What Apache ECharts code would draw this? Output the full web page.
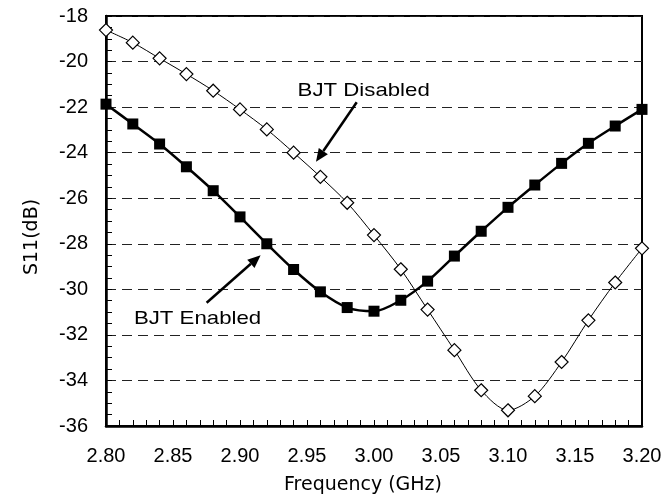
<!DOCTYPE html>
<html>
<head>
<meta charset="utf-8">
<script src="https://cdn.jsdelivr.net/npm/echarts@6/dist/echarts.min.js"></script>
<style>
  html, body { margin: 0; padding: 0; background: #fff; }
  #chart { width: 669px; height: 500px; }
</style>
</head>
<body>
<div id="chart"></div>
<script>
// Frequency sweep (GHz)
const freqGHz = [2.80, 2.82, 2.84, 2.86, 2.88, 2.90, 2.92, 2.94, 2.96, 2.98, 3.00,
                 3.02, 3.04, 3.06, 3.08, 3.10, 3.12, 3.14, 3.16, 3.18, 3.20];
// S11 (dB) with the BJT switched off
const s11Disabled = [-18.62, -19.17, -19.86, -20.55, -21.28, -22.10, -22.98, -24.00, -25.06, -26.20, -27.62,
                     -29.12, -30.89, -32.67, -34.43, -35.31, -34.69, -33.19, -31.36, -29.70, -28.20];
// S11 (dB) with the BJT switched on
const s11Enabled = [-21.87, -22.74, -23.62, -24.62, -25.67, -26.82, -28.00, -29.13, -30.11, -30.80, -30.96,
                    -30.48, -29.64, -28.54, -27.45, -26.40, -25.42, -24.47, -23.59, -22.83, -22.10];
// Axis ranges / tick steps
const xTicks = { min: 2.80, max: 3.20, step: 0.05 };
const yTicks = { min: -36, max: -18, step: 2 };
// Callout labels: text, text anchor, arrow tail, arrow head (data coordinates)
const callouts = [
  { text: 'BJT Disabled', at: [2.9923, -21.28], from: [2.9871, -21.79], to: [2.9567, -24.40] },
  { text: 'BJT Enabled',  at: [2.8683, -31.31], from: [2.8751, -30.59], to: [2.9154, -28.50] }
];

const pair = (xs, ys) => xs.map((x, i) => [x, ys[i]]);

const chart = echarts.init(document.getElementById('chart'));
const tickFont = { fontFamily: 'Liberation Sans', fontSize: 20, color: '#000' };

chart.setOption({
  animation: false,
  backgroundColor: '#fff',
  grid: {
    left: 106, right: 27, top: 16, bottom: 74,
    show: true, borderColor: '#000', borderWidth: 2, backgroundColor: 'transparent'
  },
  xAxis: {
    type: 'value',
    min: xTicks.min, max: xTicks.max, interval: xTicks.step,
    name: 'Frequency (GHz)',
    nameLocation: 'middle',
    nameGap: 50,
    nameTextStyle: { fontFamily: 'DejaVu Sans', fontSize: 19, color: '#000', padding: [0, 22, 0, 0] },
    axisLine: { show: true, lineStyle: { color: '#000', width: 2.5 } },
    axisTick: { show: true, inside: true, length: 6, lineStyle: { color: '#000', width: 1 } },
    minorTick: { show: true, splitNumber: 5, length: 6, lineStyle: { color: '#000', width: 1 } },
    axisLabel: Object.assign({ margin: 20, formatter: v => v.toFixed(2) }, tickFont),
    splitLine: { show: false }
  },
  yAxis: {
    type: 'value',
    min: yTicks.min, max: yTicks.max, interval: yTicks.step,
    name: 'S11(dB)',
    nameLocation: 'middle',
    nameRotate: 90,
    nameGap: 64,
    nameTextStyle: { fontFamily: 'DejaVu Sans', fontSize: 19, color: '#000', padding: [0, 32, 0, 0] },
    axisLine: { show: true, lineStyle: { color: '#000', width: 2.5 } },
    axisTick: { show: true, inside: true, length: 6, lineStyle: { color: '#000', width: 1 } },
    minorTick: { show: true, splitNumber: 4, length: 6, lineStyle: { color: '#000', width: 1 } },
    axisLabel: Object.assign({ margin: 18, formatter: v => String(v) }, tickFont),
    splitLine: { show: true, lineStyle: { color: '#222', width: 1, type: [10, 6] } }
  },
  series: [
    {
      name: 'BJT Disabled',
      type: 'line',
      data: pair(freqGHz, s11Disabled),
      smooth: 0.3,
      clip: false,
      symbol: 'diamond',
      symbolSize: 13,
      lineStyle: { color: '#000', width: 1 },
      itemStyle: { color: '#fff', borderColor: '#000', borderWidth: 1.2 },
      z: 3
    },
    {
      name: 'BJT Enabled',
      type: 'line',
      data: pair(freqGHz, s11Enabled),
      smooth: 0.3,
      clip: false,
      symbol: 'rect',
      symbolSize: 11,
      lineStyle: { color: '#000', width: 2.5 },
      itemStyle: { color: '#000', borderColor: '#000', borderWidth: 0 },
      z: 4
    }
  ]
});

// Callout text and arrows, placed from data coordinates
function arrowHead(tip, tail, len, half) {
  const dx = tip[0] - tail[0], dy = tip[1] - tail[1];
  const d = Math.hypot(dx, dy);
  const ux = dx / d, uy = dy / d;
  const bx = tip[0] - ux * len, by = tip[1] - uy * len;
  return [tip, [bx - uy * half, by + ux * half], [bx + uy * half, by - ux * half]];
}

const toPx = v => chart.convertToPixel({ gridIndex: 0 }, v);
const graphics = [];
callouts.forEach(c => {
  const at = toPx(c.at), a = toPx(c.from), b = toPx(c.to);
  const head = arrowHead(b, a, 13, 5.5);
  const lineEnd = [(head[1][0] + head[2][0]) / 2, (head[1][1] + head[2][1]) / 2];
  graphics.push({
    type: 'line', z: 10,
    shape: { x1: a[0], y1: a[1], x2: lineEnd[0], y2: lineEnd[1] },
    style: { stroke: '#000', lineWidth: 2.5 }
  });
  graphics.push({
    type: 'polygon', z: 10,
    shape: { points: head },
    style: { fill: '#000' }
  });
  graphics.push({
    type: 'text', z: 10,
    x: at[0], y: at[1], scaleX: 1.17,
    style: {
      text: c.text, fill: '#000',
      font: '19px "Liberation Sans"',
      align: 'center', verticalAlign: 'middle'
    }
  });
});
chart.setOption({ graphic: graphics });
</script>
</body>
</html>
